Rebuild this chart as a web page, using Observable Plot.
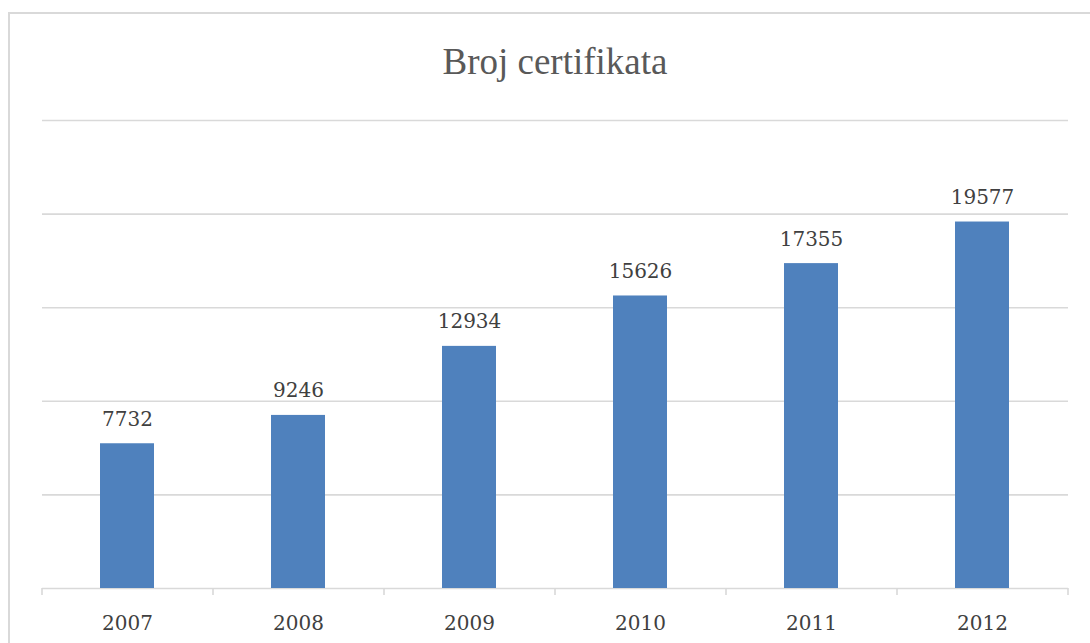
<!DOCTYPE html>
<html>
<head>
<meta charset="utf-8">
<script src="https://cdn.jsdelivr.net/npm/d3@7"></script>
<script src="https://cdn.jsdelivr.net/npm/@observablehq/plot@0.6"></script>
<style>
  html, body { margin: 0; padding: 0; background: #fff; overflow: hidden; }
  body { width: 1090px; height: 643px; position: relative; }
  #frame { position: absolute; left: 8px; top: 12px; width: 1100px; height: 660px; border: 2px solid #d9d9d9; box-sizing: border-box; }
  #title { position: absolute; left: 42px; width: 1026px; top: 40px; text-align: center;
           font-family: "Liberation Serif", serif; font-size: 37px; color: #595959; line-height: 44px; }
  #chart { position: absolute; left: 0; top: 100px; }
</style>
</head>
<body>
<div id="frame"></div>
<div id="title">Broj certifikata</div>
<div id="chart"></div>
<script>
const years = ["2007", "2008", "2009", "2010", "2011", "2012"];
const counts = [7732, 9246, 12934, 15626, 17355, 19577];
const gridTicks = [0, 5000, 10000, 15000, 20000, 25000];
const yMax = 25000;

const data = years.map((y, i) => ({year: y, value: counts[i]}));

const W = 1090, H = 543, mL = 42, mR = 22, mT = 20, mB = 55;
const step = (W - mL - mR) / years.length;
const barColor = "#4f81bd";
const gridColor = "#d9d9d9";
const textColor = "#404040";
const font = "DejaVu Serif";

const chart = Plot.plot({
  width: W, height: H,
  marginLeft: mL, marginRight: mR, marginTop: mT, marginBottom: mB,
  style: {fontFamily: font, color: textColor, background: "transparent"},
  x: {type: "band", domain: years, paddingInner: 0.684, paddingOuter: 0.342},
  y: {domain: [0, yMax], axis: null},
  marks: [
    Plot.ruleY(gridTicks, {stroke: gridColor, strokeWidth: 1.6}),
    Plot.ruleX(years, {x: d => d, y1: 0, y2: 0, dx: -step / 2, insetBottom: -7, stroke: gridColor, strokeWidth: 1.6}),
    Plot.ruleX([years[years.length - 1]], {x: d => d, y1: 0, y2: 0, dx: step / 2, insetBottom: -7, stroke: gridColor, strokeWidth: 1.6}),
    Plot.barY(data, {x: "year", y: "value", fill: barColor}),
    Plot.text(data, {x: "year", y: "value", text: d => String(d.value), lineAnchor: "bottom", dy: -18, fontSize: 20, fill: textColor}),
    Plot.axisX({tickSize: 0, tickPadding: 27, fontSize: 20, color: textColor, label: null})
  ]
});
document.getElementById("chart").appendChild(chart);
</script>
</body>
</html>
